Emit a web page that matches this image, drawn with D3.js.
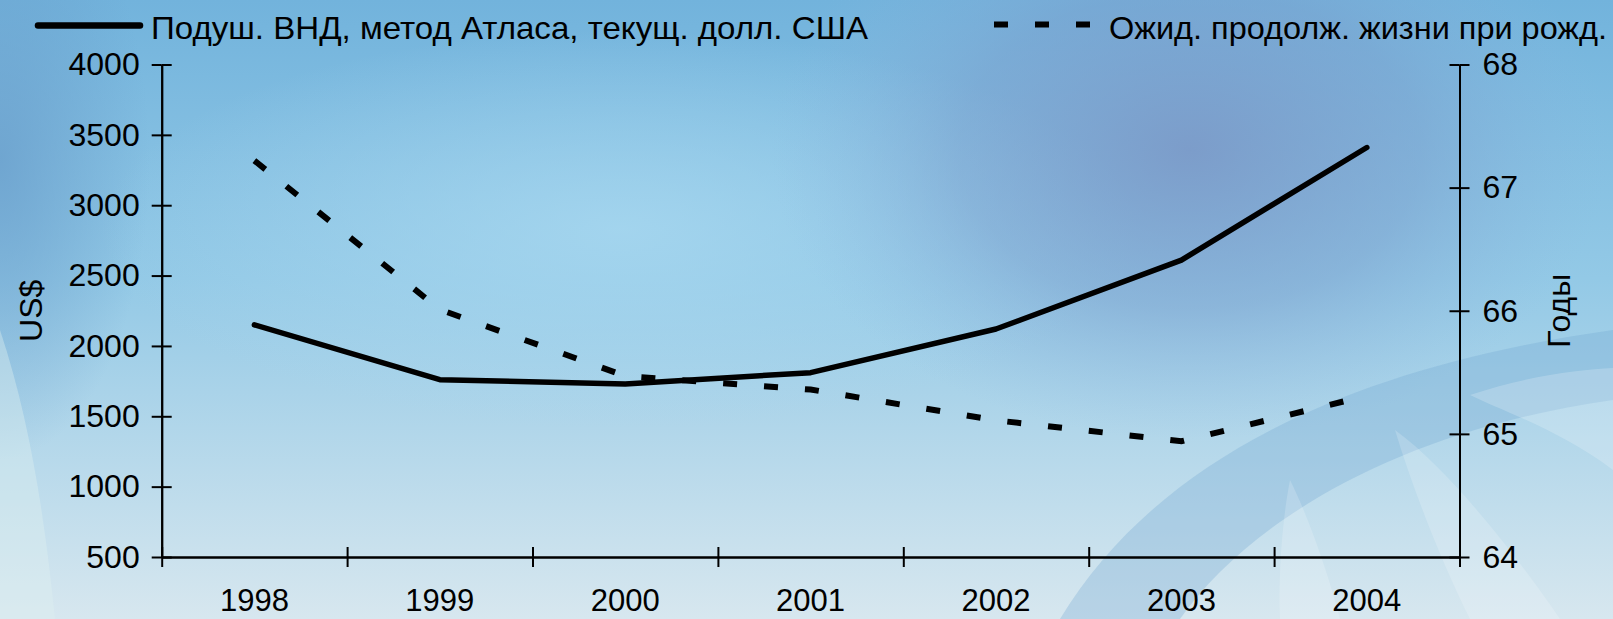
<!DOCTYPE html>
<html>
<head>
<meta charset="utf-8">
<script src="https://cdn.jsdelivr.net/npm/d3@7"></script>
<style>
  html, body { margin: 0; padding: 0; overflow: hidden; }
  svg { display: block; font-family: "Liberation Sans", Arial, sans-serif; }
</style>
</head>
<body>
<svg class="chart"></svg>
<script>
// data
var years = ["1998", "1999", "2000", "2001", "2002", "2003", "2004"];
var gniValues = [2150, 1760, 1730, 1810, 2120, 2610, 3410];
var lifeValues = [67.22, 66.01, 65.47, 65.36, 65.11, 64.94, 65.31];
var leftTicks = [500, 1000, 1500, 2000, 2500, 3000, 3500, 4000];
var rightTicks = [64, 65, 66, 67, 68];
var legendNames = ["Подуш. ВНД, метод Атласа, текущ. долл. США", "Ожид. продолж. жизни при рожд."];

var W = 1613, H = 619;
var margin = {left: 161.7, right: W - 1459.5, top: 64.5, bottom: H - 557};

var svg = d3.select("svg.chart").attr("width", W).attr("height", H);
var defs = svg.append("defs");

// background
var bg = defs.append("linearGradient").attr("id", "bg").attr("x1", 0).attr("y1", 0).attr("x2", 0).attr("y2", 1);
bg.append("stop").attr("offset", "0%").attr("stop-color", "#72b3dc");
bg.append("stop").attr("offset", "45%").attr("stop-color", "#93c9e6");
bg.append("stop").attr("offset", "100%").attr("stop-color", "#d7e7ef");

var blob = defs.append("radialGradient").attr("id", "blob");
blob.append("stop").attr("offset", "0%").attr("stop-color", "#7a94c4").attr("stop-opacity", 0.8);
blob.append("stop").attr("offset", "55%").attr("stop-color", "#7c9ccb").attr("stop-opacity", 0.45);
blob.append("stop").attr("offset", "100%").attr("stop-color", "#8fb8e0").attr("stop-opacity", 0);

var light = defs.append("radialGradient").attr("id", "light");
light.append("stop").attr("offset", "0%").attr("stop-color", "#a8d8f0").attr("stop-opacity", 0.8);
light.append("stop").attr("offset", "100%").attr("stop-color", "#a8d8f0").attr("stop-opacity", 0);

var leftDark = defs.append("radialGradient").attr("id", "leftDark");
leftDark.append("stop").attr("offset", "0%").attr("stop-color", "#6a9fcc").attr("stop-opacity", 0.8);
leftDark.append("stop").attr("offset", "100%").attr("stop-color", "#6a9fcc").attr("stop-opacity", 0);

svg.append("rect").attr("width", W).attr("height", H).attr("fill", "url(#bg)");
svg.append("ellipse").attr("cx", 0).attr("cy", 160).attr("rx", 150).attr("ry", 300).attr("fill", "url(#leftDark)");
svg.append("ellipse").attr("cx", 620).attr("cy", 230).attr("rx", 520).attr("ry", 200).attr("fill", "url(#light)");
svg.append("ellipse").attr("cx", 1190).attr("cy", 150).attr("rx", 420).attr("ry", 290).attr("fill", "url(#blob)");

// decorative arcs, lower right
svg.append("path")
    .attr("d", "M1060,619 C1150,470 1330,370 1613,330 L1613,400 C1400,430 1250,520 1180,619 Z")
    .attr("fill", "#6fa7cf").attr("opacity", 0.3);
svg.append("path")
    .attr("d", "M1470,395 C1530,375 1580,370 1613,368 L1613,470 C1560,430 1500,410 1470,395 Z")
    .attr("fill", "#ffffff").attr("opacity", 0.2);
svg.append("path")
    .attr("d", "M1395,430 C1450,470 1520,560 1560,619 L1470,619 C1440,560 1410,480 1395,430 Z")
    .attr("fill", "#ffffff").attr("opacity", 0.18);
svg.append("path")
    .attr("d", "M1290,480 C1310,520 1330,580 1340,619 L1280,619 C1278,580 1282,520 1290,480 Z")
    .attr("fill", "#ffffff").attr("opacity", 0.18);
svg.append("path")
    .attr("d", "M0,330 C30,420 45,520 55,619 L0,619 Z")
    .attr("fill", "#dff0f0").attr("opacity", 0.4);

// scales
var x = d3.scaleBand().domain(years).range([margin.left, W - margin.right]).padding(0);
var xb = d3.scaleLinear().domain([0, years.length]).range([margin.left, W - margin.right]);
var yL = d3.scaleLinear().domain([500, 4000]).range([H - margin.bottom, margin.top]);
var yR = d3.scaleLinear().domain([64, 68]).range([H - margin.bottom, margin.top]);

function styleAxis(g) {
    g.selectAll("path, line").attr("stroke", "#000").attr("stroke-width", 2);
    g.selectAll("text").attr("fill", "#000").attr("font-size", 32)
        .attr("font-family", "'Liberation Sans', Arial, sans-serif");
}

// left axis
svg.append("g").attr("transform", "translate(" + margin.left + ",0)")
    .call(d3.axisLeft(yL).tickValues(leftTicks).tickFormat(d3.format("d")).tickSize(10).tickSizeOuter(0).tickPadding(12))
    .call(styleAxis);
svg.append("g").attr("transform", "translate(" + margin.left + ",0)")
    .call(d3.axisLeft(yL).tickValues(leftTicks).tickSize(-10).tickSizeOuter(0).tickFormat(""))
    .call(styleAxis);

// right axis
svg.append("g").attr("transform", "translate(" + (W - margin.right) + ",0)")
    .call(d3.axisRight(yR).tickValues(rightTicks).tickFormat(d3.format("d")).tickSize(10).tickSizeOuter(0).tickPadding(13))
    .call(styleAxis);
svg.append("g").attr("transform", "translate(" + (W - margin.right) + ",0)")
    .call(d3.axisRight(yR).tickValues(rightTicks).tickSize(-10).tickSizeOuter(0).tickFormat(""))
    .call(styleAxis);

// bottom axis: boundary ticks crossing the line, labels at band centres
var xg = svg.append("g").attr("transform", "translate(0," + (H - margin.bottom) + ")");
xg.append("g").call(d3.axisBottom(xb).tickValues(d3.range(years.length + 1)).tickSize(10).tickSizeOuter(0).tickFormat("")).call(styleAxis);
xg.append("g").call(d3.axisBottom(xb).tickValues(d3.range(years.length + 1)).tickSize(-10).tickSizeOuter(0).tickFormat("")).call(styleAxis);
xg.append("g").call(d3.axisBottom(x).tickSize(0).tickPadding(32)).call(styleAxis)
    .call(function(g) {
        g.select(".domain").remove();
        g.selectAll("text").attr("font-size", 31);
    });

// axis titles
svg.append("text")
    .attr("transform", "translate(42," + ((margin.top + H - margin.bottom) / 2) + ") rotate(-90)")
    .attr("text-anchor", "middle").attr("font-size", 32).text("US$");
svg.append("text")
    .attr("transform", "translate(1570," + ((margin.top + H - margin.bottom) / 2) + ") rotate(-90)")
    .attr("text-anchor", "middle").attr("font-size", 32).text("Годы");

// lines
var cx = function(d, i) { return x(years[i]) + x.bandwidth() / 2; };

svg.append("path")
    .datum(gniValues)
    .attr("fill", "none").attr("stroke", "#000").attr("stroke-width", 5.5)
    .attr("stroke-linejoin", "round").attr("stroke-linecap", "round")
    .attr("d", d3.line().x(cx).y(function(d) { return yL(d); }));

svg.append("path")
    .datum(lifeValues)
    .attr("fill", "none").attr("stroke", "#000").attr("stroke-width", 6)
    .style("stroke-dasharray", ("14, 27"))
    .attr("d", d3.line().x(cx).y(function(d) { return yR(d); }));

// legend
svg.append("line")
    .attr("x1", 38).attr("x2", 140).attr("y1", 25.5).attr("y2", 25.5)
    .attr("stroke", "#000").attr("stroke-width", 6.5).attr("stroke-linecap", "round");
svg.append("text").attr("x", 151).attr("y", 39).attr("font-size", 32)
    .attr("textLength", 717).attr("lengthAdjust", "spacingAndGlyphs")
    .text(legendNames[0]);

svg.append("line")
    .attr("x1", 994).attr("x2", 1092).attr("y1", 24.5).attr("y2", 24.5)
    .attr("stroke", "#000").attr("stroke-width", 6)
    .style("stroke-dasharray", ("14, 27"));
svg.append("text").attr("x", 1109).attr("y", 39).attr("font-size", 32)
    .attr("textLength", 498).attr("lengthAdjust", "spacingAndGlyphs")
    .text(legendNames[1]);
</script>
</body>
</html>
